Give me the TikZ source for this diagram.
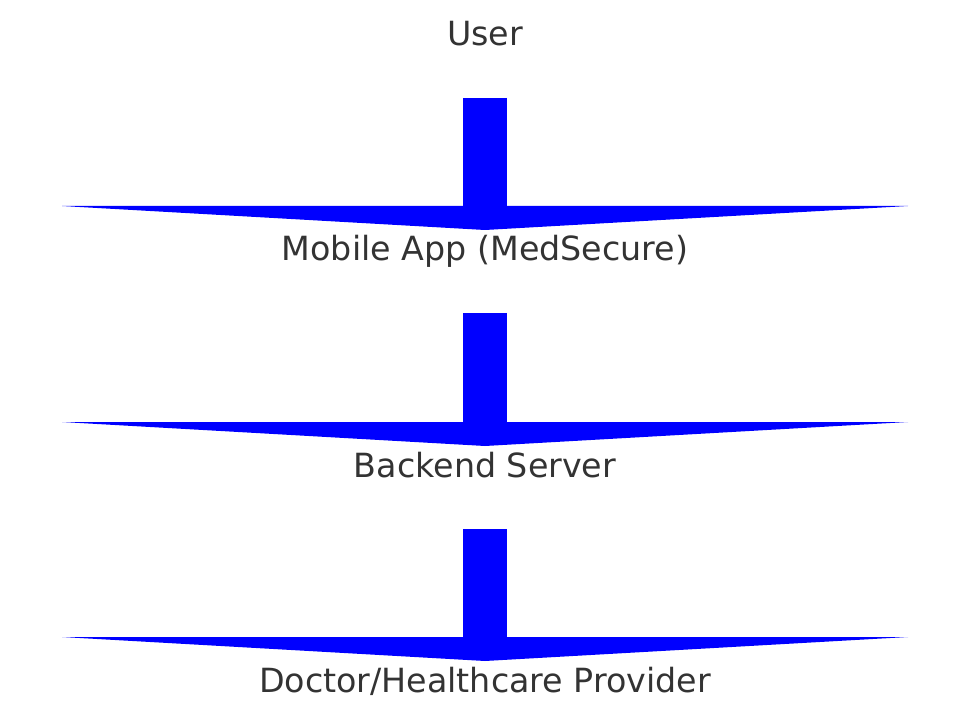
\documentclass[tikz,border=0pt]{standalone}
\usepackage{fontspec}
\setmainfont{DejaVu Sans}
\usetikzlibrary{arrows.meta}
\definecolor{textgray}{HTML}{333333}

\begin{document}
\begin{tikzpicture}[x=1pt,y=-1pt,
	tier/.style={anchor=base,inner sep=0pt,text=textgray,font=\fontsize{33.3}{40}\selectfont},
	flow/.style={draw=blue,line width=44pt,-{Triangle[width=846pt,length=24pt,line width=0pt]},shorten <=52pt,shorten >=31pt}]
	
	\useasboundingbox (0,0) rectangle (969,719);
	
	\node[tier] (user) at (485,46) {User};
	\node[tier] (app) at (485,261) {Mobile App (MedSecure)};
	\node[tier] (server) at (485,477) {Backend Server};
	\node[tier] (doctor) at (485,692) {Doctor/Healthcare Provider};
	
	\draw[flow] (user.base) -- (app.base);
	\draw[flow] (app.base) -- (server.base);
	\draw[flow] (server.base) -- (doctor.base);
\end{tikzpicture}
\end{document}
